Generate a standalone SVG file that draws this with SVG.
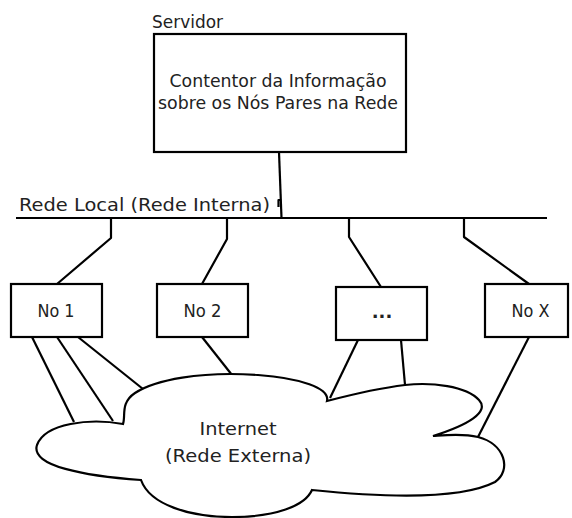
<svg xmlns="http://www.w3.org/2000/svg" width="572" height="518" viewBox="0 0 572 518">
  <style>
    .box { fill: #fff; stroke: #000; stroke-width: 2.2; }
    .wire { fill: none; stroke: #000; stroke-width: 2.2; stroke-linejoin: round; }
    .cloud { fill: #fff; stroke: #000; stroke-width: 2.2; stroke-linejoin: miter; }
    text { font-family: "DejaVu Sans", "Noto Sans", sans-serif; font-size: 18px; fill: #222; }
    .mid { text-anchor: middle; }
  </style>
  <rect width="572" height="518" fill="#fff"/>

  <!-- connectors -->
  <g id="connectors">
    <!-- server to LAN bus -->
    <path class="wire" d="M279,152 L281.5,218"/>
    <path class="wire" d="M281,200 L278.5,200 L278.5,207" stroke-width="1.5"/>
    <!-- LAN bus -->
    <path class="wire" d="M16,218 L547,218"/>
    <!-- bus drops to nodes -->
    <path class="wire" d="M111,218 L111,238 L57,284"/>
    <path class="wire" d="M227,218 L227,239 L202,284"/>
    <path class="wire" d="M349,218 L349,237 L381,287"/>
    <path class="wire" d="M464,218 L464,237 L529,284"/>
    <!-- nodes to the internet cloud -->
    <path class="wire" d="M32,337 L74,422"/>
    <path class="wire" d="M57,337 L113,421"/>
    <path class="wire" d="M78,337 L143,389"/>
    <path class="wire" d="M202,337 L232,375"/>
    <path class="wire" d="M358,340 L330,398"/>
    <path class="wire" d="M401,340 L405,385"/>
    <path class="wire" d="M529,337 L478,437"/>
  </g>

  <!-- server -->
  <g id="server">
    <text x="152" y="28" textLength="71" lengthAdjust="spacingAndGlyphs">Servidor</text>
    <rect class="box" x="154" y="34" width="252" height="118"/>
    <text class="mid" x="278" y="87" textLength="217" lengthAdjust="spacingAndGlyphs">Contentor da Informação</text>
    <text class="mid" x="278" y="109" textLength="240" lengthAdjust="spacingAndGlyphs">sobre os Nós Pares na Rede</text>
  </g>

  <!-- LAN label -->
  <g id="lan">
    <text x="19" y="211" textLength="251" lengthAdjust="spacingAndGlyphs">Rede Local (Rede Interna)</text>
  </g>

  <!-- peer nodes -->
  <g id="node1">
    <rect class="box" x="11" y="284" width="91" height="53"/>
    <text class="mid" x="56" y="317" textLength="37" lengthAdjust="spacingAndGlyphs">No 1</text>
  </g>
  <g id="node2">
    <rect class="box" x="157" y="284" width="91" height="53"/>
    <text class="mid" x="202.5" y="317" textLength="38" lengthAdjust="spacingAndGlyphs">No 2</text>
  </g>
  <g id="nodeN">
    <rect class="box" x="336" y="287" width="91" height="53"/>
    <text class="mid" x="382" y="318" font-weight="bold" fill="#000">...</text>
  </g>
  <g id="nodeX">
    <rect class="box" x="485" y="284" width="83" height="53"/>
    <text class="mid" x="530.5" y="317" textLength="38" lengthAdjust="spacingAndGlyphs">No X</text>
  </g>

  <!-- internet cloud -->
  <g id="internet">
    <path class="cloud" d="M123,424
      C 90,418 45,423 37,445
      C 30,466 85,476 141,480
      C 150,505 190,517 232,517
      C 275,517 305,506 312,490
      C 380,497 460,500 495,482
      C 512,470 505,444 478,437
      C 462,433 446,435 433,436
      C 468,425 490,412 479,400
      C 466,386 432,382 405,385
      C 380,388 350,395 327,401
      C 330,388 300,378 258,375
      C 200,371 155,380 135,393
      C 120,403 126,416 123,424 Z"/>
    <text class="mid" x="238" y="435" textLength="77" lengthAdjust="spacingAndGlyphs">Internet</text>
    <text class="mid" x="238" y="462" textLength="146" lengthAdjust="spacingAndGlyphs">(Rede Externa)</text>
  </g>
</svg>
